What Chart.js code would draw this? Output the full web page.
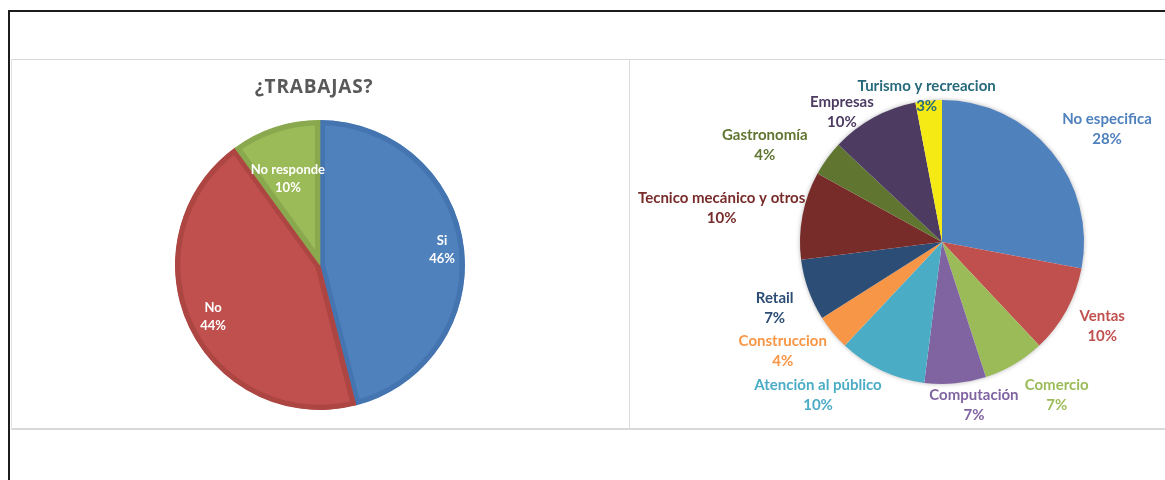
<!DOCTYPE html>
<html>
<head>
<meta charset="utf-8">
<script src="https://cdn.jsdelivr.net/npm/chart.js@4.4.1/dist/chart.umd.min.js"></script>
<style>
  html, body { margin: 0; padding: 0; background: #fff; }
  body { width: 1165px; height: 480px; position: relative; overflow: hidden; }
  .frame { position: absolute; left: 8px; top: 10px; width: 1200px; height: 520px;
           border-left: 2px solid #1c1c1c; border-top: 2px solid #1c1c1c; }
  .panel { position: absolute; left: 11px; top: 59px; width: 1200px; height: 368px;
           border-top: 1px solid #d9d9d9; border-bottom: 2px solid #d9d9d9; border-left: 1px solid #e3e3e3; }
  .divider { position: absolute; left: 629px; top: 60px; width: 1px; height: 368px; background: #dcdcdc; }
  canvas { position: absolute; }
  #trabajas { left: 12px; top: 61px; }
  #rubros { left: 631px; top: 61px; }
</style>
</head>
<body>
<div class="frame"></div>
<div class="panel"></div>
<div class="divider"></div>
<canvas id="trabajas" width="616" height="366"></canvas>
<canvas id="rubros" width="534" height="366"></canvas>
<script>
// ¿Trabajas? — share of answers
const trabajaTitle = '¿TRABAJAS?';
const trabajaLabels = ['Si', 'No', 'No responde'];
const trabajaValues = [46, 44, 10];
const trabajaColors = ['#4F81BD', '#C0504D', '#9BBB59'];
const trabajaEdges  = ['#4575B0', '#AD4643', '#8AA84D'];

// Work area breakdown
const rubroLabels = ['No especifica', 'Ventas', 'Comercio', 'Computación', 'Atención al público',
                     'Construccion', 'Retail', 'Tecnico mecánico y otros', 'Gastronomía', 'Empresas',
                     'Turismo y recreacion'];
const rubroValues = [28, 10, 7, 7, 10, 4, 7, 10, 4, 10, 3];
const rubroColors = ['#4F81BD', '#C0504D', '#9BBB59', '#8064A2', '#4BACC6', '#F79646',
                     '#2C4D75', '#772C2A', '#5F7530', '#4D3B62', '#F5EA14'];
const rubroTextColors = ['#4F81BD', '#C0504D', '#9BBB59', '#8064A2', '#4BACC6', '#F79646',
                         '#2C4D75', '#772C2A', '#5F7530', '#4D3B62', '#276A7C'];

// label placement: [distance, angular shift in degrees]
const trabajaLabelPlace = [[123, 0], [119, -0.8], [92, -2.4]];
const rubroLabelPlace = [[58, 5.2], [39, -1.1], [49, -6.3], [24, -5.7], [55, 13.8], [51, 5.2],
                         [38, -1.8], [81, -2], [60, -7.3], [22, -8.8], [5, -0.6]];

function sliceLabels(id, cfg) {
  return {
    id,
    afterDatasetsDraw(chart) {
      const ctx = chart.ctx;
      const ds = chart.data.datasets[0];
      const total = ds.data.reduce((a, b) => a + b, 0);
      const meta = chart.getDatasetMeta(0);
      ctx.save();
      ctx.font = cfg.font;
      ctx.textAlign = 'center';
      ctx.textBaseline = 'middle';
      meta.data.forEach((arc, i) => {
        const p = arc.getProps(['x', 'y', 'startAngle', 'endAngle', 'outerRadius'], true);
        const [dist, shift] = cfg.place[i];
        const a = (p.startAngle + p.endAngle) / 2 + shift * Math.PI / 180;
        const r = cfg.inside ? dist : p.outerRadius + dist;
        const lx = p.x + r * Math.cos(a);
        const ly = p.y + r * Math.sin(a);
        ctx.fillStyle = cfg.colors[i];
        ctx.fillText(chart.data.labels[i], lx, ly - cfg.lineGap / 2);
        ctx.fillText(Math.round(ds.data[i] / total * 100) + '%', lx, ly + cfg.lineGap / 2);
      });
      ctx.restore();
    }
  };
}

const chartTitle = {
  id: 'chartTitle',
  afterDraw(chart) {
    const ctx = chart.ctx;
    ctx.save();
    ctx.font = 'bold 19px "Open Sans"';
    ctx.letterSpacing = '0.8px';
    ctx.fillStyle = '#595959';
    ctx.textAlign = 'center';
    ctx.textBaseline = 'middle';
    ctx.fillText(trabajaTitle, 302, 27);
    ctx.restore();
  }
};

const pieShadow = {
  id: 'pieShadow',
  beforeDatasetsDraw(chart) {
    const arc = chart.getDatasetMeta(0).data[0];
    if (!arc) return;
    const p = arc.getProps(['x', 'y', 'outerRadius'], true);
    const ctx = chart.ctx;
    ctx.save();
    ctx.shadowColor = 'rgba(0,0,0,0.35)';
    ctx.shadowBlur = 5;
    ctx.beginPath();
    ctx.arc(p.x, p.y, p.outerRadius - 0.5, 0, Math.PI * 2);
    ctx.fillStyle = '#ffffff';
    ctx.fill();
    ctx.restore();
  }
};

const common = {
  responsive: false,
  animation: false,
  events: [],
  plugins: { legend: { display: false }, tooltip: { enabled: false }, title: { display: false } }
};

new Chart(document.getElementById('trabajas'), {
  type: 'pie',
  data: {
    labels: trabajaLabels,
    datasets: [{
      data: trabajaValues,
      backgroundColor: trabajaColors,
      borderColor: trabajaEdges,
      borderWidth: 5,
      borderAlign: 'inner',
      radius: 145
    }]
  },
  options: Object.assign({}, common, { layout: { padding: { top: 42, bottom: 0, left: 0, right: 0 } } }),
  plugins: [chartTitle, sliceLabels('trabajaLabels', {
    font: 'bold 13px Lato', colors: ['#fff', '#fff', '#fff'], place: trabajaLabelPlace,
    inside: true, lineGap: 18
  })]
});

new Chart(document.getElementById('rubros'), {
  type: 'pie',
  data: {
    labels: rubroLabels,
    datasets: [{
      data: rubroValues,
      backgroundColor: rubroColors,
      borderWidth: 0,
      radius: 142
    }]
  },
  options: Object.assign({}, common, { layout: { padding: { top: 0, bottom: 4, left: 88, right: 0 } } }),
  plugins: [pieShadow, sliceLabels('rubroLabels', {
    font: 'bold 15px Lato', colors: rubroTextColors, place: rubroLabelPlace,
    inside: false, lineGap: 20
  })]
});
</script>
</body>
</html>
